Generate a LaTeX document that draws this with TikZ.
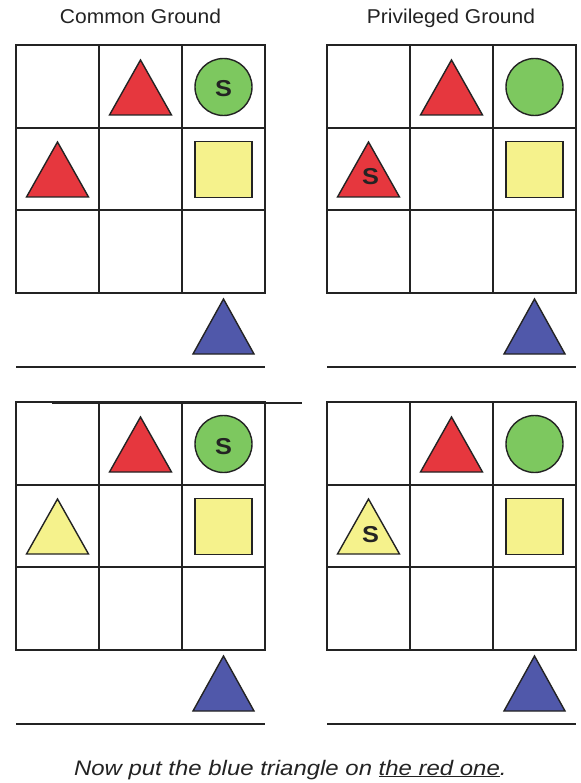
\documentclass[tikz,border=0pt]{standalone}
\usepackage{fontspec}
\setmainfont{Liberation Sans}
\newfontfamily\titlefont[FakeStretch=1.05]{Liberation Sans}
\newfontfamily\capfont[FakeStretch=1.14]{Liberation Sans}
\newfontfamily\letterfont[FakeStretch=1.1]{Liberation Sans}
\definecolor{shapered}{RGB}{230,55,62}
\definecolor{shapegreen}{RGB}{125,200,95}
\definecolor{shapeyellow}{RGB}{245,242,140}
\definecolor{shapeblue}{RGB}{80,88,170}
\definecolor{ink}{RGB}{35,35,35}
\tikzset{
  gridline/.style={draw=ink, line width=1.7pt, line cap=rect},
  baserule/.style={draw=ink, line width=1.5pt},
  shapeline/.style={draw=ink, line width=1.4pt, line join=miter},
  titletext/.style={anchor=base, inner sep=0pt, text=ink, font=\titlefont\fontsize{20}{24}\selectfont},
  lettertext/.style={inner sep=0pt, text=ink, font=\letterfont\bfseries\fontsize{23}{25}\selectfont},
  captext/.style={anchor=base, inner sep=0pt, text=ink, font=\capfont\itshape\fontsize{21}{25}\selectfont},
}
% #1 x0, #2 y0, #3 colour of triangle in cell (0,1)
\newcommand{\gridpanel}[3]{%
  \foreach \i in {0,1,2,3} {
    \draw[gridline] ({#1+83*\i},#2) -- ({#1+83*\i},{#2+248});
    \draw[gridline] (#1,{#2+82.67*\i}) -- ({#1+249},{#2+82.67*\i});
  }
  \draw[baserule] (#1,{#2+322}) -- ({#1+249},{#2+322});
  % red triangle, cell (1,0)
  \filldraw[shapeline, fill=shapered] ({#1+124.5-31},{#2+70}) -- ({#1+124.5},{#2+15}) -- ({#1+124.5+31},{#2+70}) -- cycle;
  % green circle, cell (2,0)
  \filldraw[shapeline, fill=shapegreen] ({#1+207.5},{#2+42}) circle [radius=28.5pt];
  % yellow square, cell (2,1)
  \filldraw[shapeline, fill=shapeyellow] ({#1+207.5-28.5},{#2+124.5-28}) rectangle ({#1+207.5+28.5},{#2+124.5+28});
  % triangle, cell (0,1)
  \filldraw[shapeline, fill=#3] ({#1+41.5-31},{#2+152}) -- ({#1+41.5},{#2+97}) -- ({#1+41.5+31},{#2+152}) -- cycle;
  % blue triangle below the grid
  \filldraw[shapeline, fill=shapeblue] ({#1+207.5-30.5},{#2+309}) -- ({#1+207.5},{#2+254}) -- ({#1+207.5+30.5},{#2+309}) -- cycle;
}
\begin{document}
\begin{tikzpicture}[x=1pt,y=-1pt]
  \useasboundingbox[fill=white] (0,0) rectangle (580,783);
  \node[titletext] (cg) at (140.5,24) {Common Ground};
  \node[titletext] (pg) at (451,24) {Privileged Ground};
  \gridpanel{16}{45}{shapered}
  \gridpanel{327}{45}{shapered}
  \gridpanel{16}{402}{shapeyellow}
  \gridpanel{327}{402}{shapeyellow}
  \draw[baserule] (52,403) -- (302,403);
  \node[lettertext] (s1) at (223.5,89) {S};
  \node[lettertext] (s2) at (370.5,177) {S};
  \node[lettertext] (s3) at (223.5,447) {S};
  \node[lettertext] (s4) at (370.5,535) {S};
  \node[captext] (cap) at (290.3,775) {Now put the blue triangle on \underline{the red one}.};
\end{tikzpicture}
\end{document}
